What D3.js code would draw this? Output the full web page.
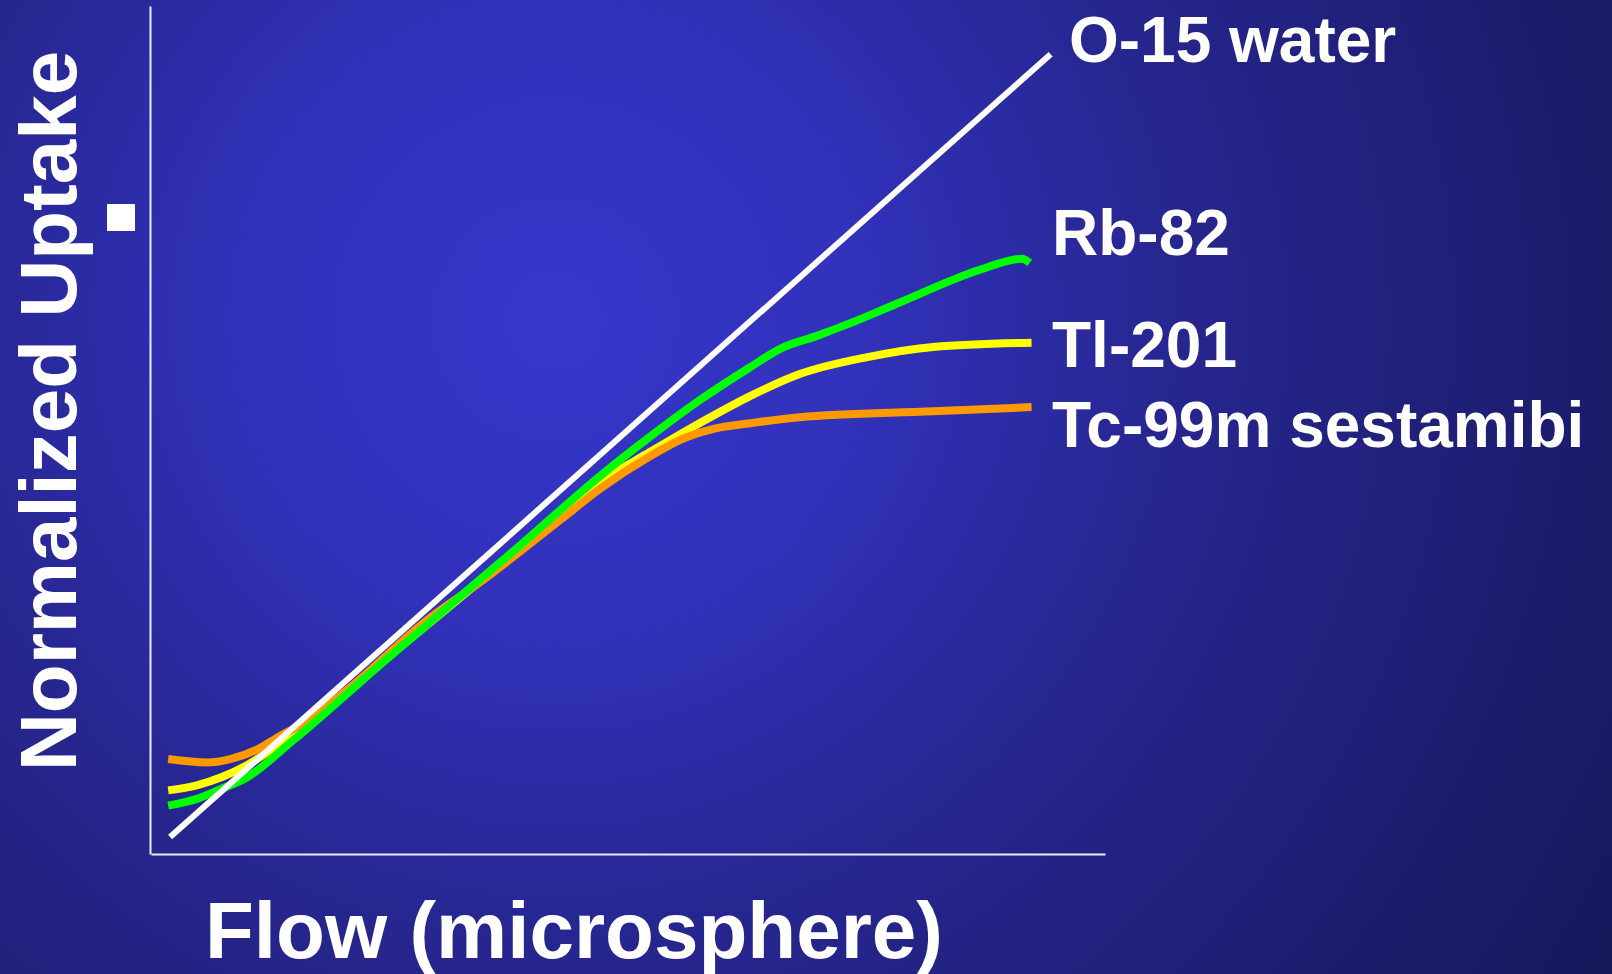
<!DOCTYPE html>
<html>
<head>
<meta charset="utf-8">
<script src="https://cdn.jsdelivr.net/npm/d3@7"></script>
<style>
  html, body { margin: 0; padding: 0; overflow: hidden; background: #1c1c6a; }
  text { font-family: "Liberation Sans", Arial, sans-serif; font-weight: bold; fill: #ffffff; }
</style>
</head>
<body>
<script>
// curve values, [flow, uptake] in arbitrary 0-100 units
const water = [[2, 2], [94.3, 94.3]];
const rb82 = [[1.8, 5.7], [4.8, 6.5], [7.2, 7.6], [10, 9.0], [15, 13.5], [24.3, 22.6], [38.4, 36.1],
  [47.1, 44.6], [52.3, 49.2], [57.5, 53.5], [62.8, 57.4], [66, 59.6], [69.8, 61.1],
  [73.3, 62.6], [78.6, 65.1], [86.9, 68.9], [91.3, 70.2], [92.1, 69.7]];
const tl201 = [[1.8, 7.5], [4.8, 8.1], [7.5, 9.1], [10.1, 10.5], [13, 12.6], [20, 18.8], [30, 28.0],
  [40, 37.3], [47.1, 43.9], [52.3, 47.4], [57.5, 50.8], [62.8, 54.0], [68, 56.6],
  [75.1, 58.6], [82, 59.8], [92.3, 60.3]];
const tc99m = [[1.8, 11.2], [5.9, 10.8], [8.3, 11.2], [11.1, 12.3], [13.5, 13.9], [16, 15.4], [20, 18.8],
  [29.2, 27.8], [34.8, 32.3], [42.9, 39.4], [47.1, 43.1], [52.3, 46.9], [55.8, 49.0], [59.2, 50.2],
  [62.8, 50.8], [68, 51.5], [82, 52.2], [92.3, 52.7]];

const seriesNames = ["Tl-201", "Tc-99m sestamibi", "Rb-82", "O-15 water"];
const seriesData = [tl201, tc99m, rb82, water];
const seriesColors = ["#ffff00", "#ff9900", "#00ff00", "#ffffff"];

const W = 1612, H = 974;
const MARGIN = {top: 6, left: 151, right: 507, bottom: 120};

const svg = d3.select("body").append("svg")
    .attr("width", W)
    .attr("height", H);

// radial background like the slide
const grad = svg.append("defs").append("radialGradient")
    .attr("id", "bg")
    .attr("gradientUnits", "userSpaceOnUse")
    .attr("cx", 555).attr("cy", 320).attr("r", 1250);
grad.append("stop").attr("offset", 0).attr("stop-color", "#3636cb");
grad.append("stop").attr("offset", 0.25).attr("stop-color", "#3131ba");
grad.append("stop").attr("offset", 0.5).attr("stop-color", "#26268f");
grad.append("stop").attr("offset", 1).attr("stop-color", "#17175a");
svg.append("rect").attr("width", W).attr("height", H).attr("fill", "url(#bg)");

const x = d3.scaleLinear().domain([0, 100]).range([MARGIN.left, W - MARGIN.right]);
const y = d3.scaleLinear().domain([0, 100]).range([H - MARGIN.bottom, MARGIN.top]);

// bare axes, no ticks
const xAxis = svg.append("g")
    .attr("transform", `translate(0,${y(0)})`)
    .call(d3.axisBottom(x).ticks(0).tickSize(0).tickSizeOuter(0));
const yAxis = svg.append("g")
    .attr("transform", `translate(${x(0) - 1},0)`)
    .call(d3.axisLeft(y).ticks(0).tickSize(0).tickSizeOuter(0));
[xAxis, yAxis].forEach(a => a.select(".domain").attr("stroke", "#ececf4").attr("stroke-width", 2));

const line = d3.line()
    .x(d => x(d[0]))
    .y(d => y(d[1]))
    .curve(d3.curveMonotoneX);

svg.selectAll("path.series")
    .data(seriesData)
    .join("path")
    .attr("class", "series")
    .attr("fill", "none")
    .attr("stroke", (d, i) => seriesColors[i])
    .attr("stroke-width", (d, i) => i === 3 ? 6 : 8)
    .attr("stroke-linecap", "butt")
    .attr("stroke-linejoin", "round")
    .attr("d", line);

// series labels at the right end
const labelPos = [
  {name: "O-15 water", x: 1069, y: 62},
  {name: "Rb-82", x: 1052, y: 255},
  {name: "Tl-201", x: 1052, y: 367},
  {name: "Tc-99m sestamibi", x: 1052, y: 447}
];
svg.selectAll("text.lbl")
    .data(labelPos)
    .join("text")
    .attr("class", "lbl")
    .attr("x", d => d.x)
    .attr("y", d => d.y)
    .style("font-size", "64px")
    .text(d => d.name);

// axis titles
svg.append("text")
    .attr("x", 205)
    .attr("y", 958)
    .style("font-size", "80px")
    .text("Flow (microsphere)");

svg.append("text")
    .attr("transform", "translate(76,771) rotate(-90)")
    .style("font-size", "80px")
    .text("Normalized Uptake");

// stray bullet from the slide
svg.append("rect")
    .attr("x", 107).attr("y", 204)
    .attr("width", 28).attr("height", 27)
    .attr("fill", "#ffffff");
</script>
</body>
</html>
